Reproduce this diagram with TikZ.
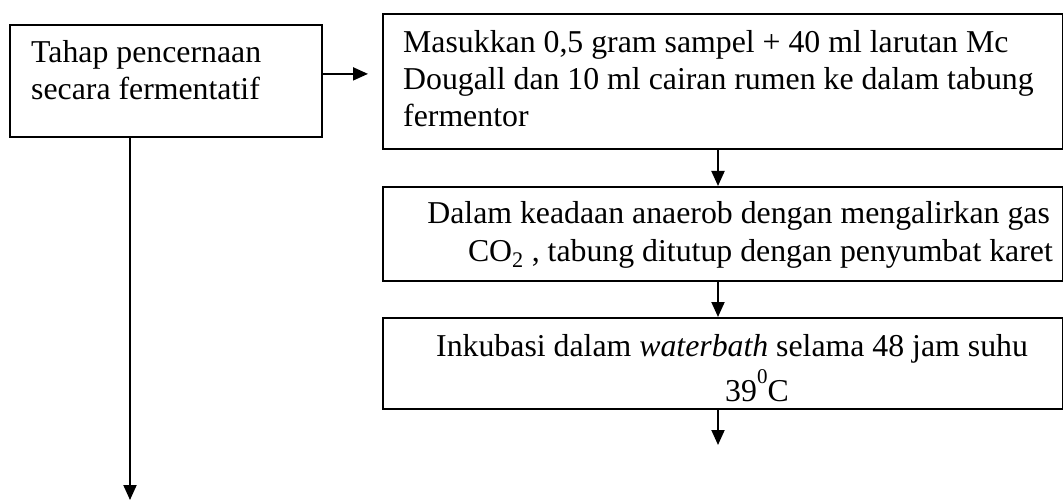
\documentclass[tikz,border=0pt]{standalone}
\usepackage{fontspec}
\setmainfont{Liberation Serif}
\usetikzlibrary{arrows.meta,calc}
\begin{document}
\begin{tikzpicture}[x=1pt,y=-1pt,
  box/.style={draw, line width=1.8pt, rectangle, inner sep=0pt, anchor=north west},
  txt/.style={anchor=base west, inner sep=0pt, font=\fontsize{31.8}{37}\selectfont},
  txtr/.style={anchor=base east, inner sep=0pt, font=\fontsize{31.8}{37}\selectfont},
  conn/.style={line width=2pt, -{Triangle[length=15pt,width=13pt]}}]
\useasboundingbox (0,0) rectangle (1063,500);
% boxes
\node[box, minimum width=312pt, minimum height=112pt] (a) at (9,24) {};
\node[box, minimum width=680pt, minimum height=135pt] (b) at (382,13) {};
\node[box, minimum width=680pt, minimum height=94pt] (c) at (382,186) {};
\node[box, minimum width=680pt, minimum height=91pt] (d) at (382,317) {};
% texts
\node[txt] (ta1) at (31,63) {Tahap pencernaan};
\node[txt] (ta2) at (31,100) {secara fermentatif};
\node[txt] (tb1) at (403,53) {Masukkan 0,5 gram sampel + 40 ml larutan Mc};
\node[txt] (tb2) at (403,90) {Dougall dan 10 ml cairan rumen ke dalam tabung};
\node[txt] (tb3) at (403,127) {fermentor};
\node[txtr] (tc1) at (1050,223) {Dalam keadaan anaerob dengan mengalirkan gas};
\node[txtr] (tc2) at (1053,261) {CO\textsubscript{2} , tabung ditutup dengan penyumbat karet};
\node[txt] (td1) at (436,356) {Inkubasi dalam \textit{waterbath} selama 48 jam suhu};
\node[txt] (td2) at (725,401) {39\raisebox{0.55em}{\fontsize{21}{21}\selectfont 0}C};
% connector helpers
\coordinate (cx) at (718,0);
\coordinate (ax) at (130,0);
\coordinate (dend) at (718,445);
\coordinate (aend) at (130,500);
% connectors
\draw[conn] ([yshift=7pt]a.east) -- ($(a.east -| b.west)+(-14,-7)$);
\draw[conn] (b.south -| cx) -- (c.north -| cx);
\draw[conn] (c.south -| cx) -- (d.north -| cx);
\draw[conn] (d.south -| cx) -- (dend);
\draw[conn] (a.south -| ax) -- (aend);
\end{tikzpicture}
\end{document}
